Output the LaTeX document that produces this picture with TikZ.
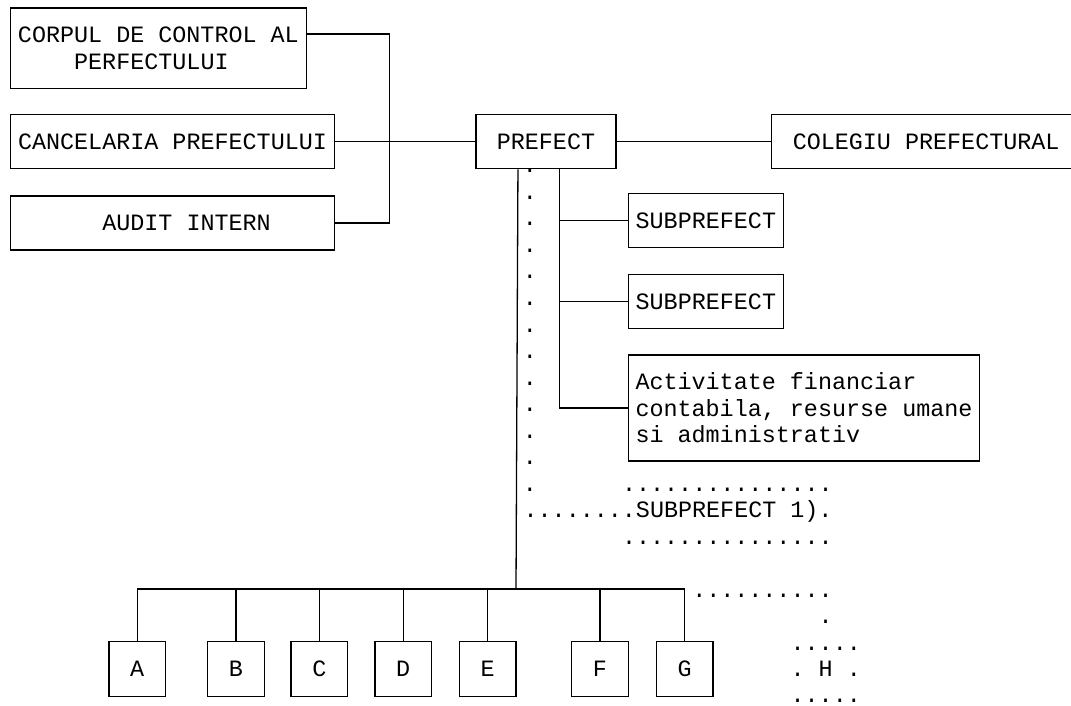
\documentclass[tikz,border=0pt]{standalone}
\usepackage{fontspec}
\setmonofont{Liberation Mono}
\usetikzlibrary{positioning}
\newcommand\chartfont{\fontsize{23.4pt}{26.55pt}\selectfont\ttfamily\frenchspacing}

\begin{document}
\begin{tikzpicture}[x=1pt, y=-1pt, line width=1.3pt,
  box/.style={draw, inner sep=0pt, font=\chartfont, align=left},
  dots/.style={inner sep=0pt, font=\chartfont, anchor=base west}]
 \useasboundingbox (0,0) rectangle (1071,705);
 \node [box, anchor=north west, minimum width=295.5pt, minimum height=80.4pt] (control) at (10,7.3) {CORPUL DE CONTROL AL\\\hphantom{XXXX}PERFECTULUI};
 \node [box, below right=25pt and 0pt of control.south west, minimum width=323.7pt, minimum height=54pt] (cancel) {CANCELARIA PREFECTULUI};
 \node [box, below right=26pt and 0pt of cancel.south west, minimum width=323.7pt, minimum height=54pt] (audit) {\hphantom{XX}AUDIT INTERN};
 \node [box, right=140.3pt of cancel, minimum width=140pt, minimum height=54pt] (prefect) {PREFECT};
 \node [box, right=153.9pt of prefect, minimum width=310pt, minimum height=54pt] (colegiu) {COLEGIU PREFECTURAL};
 \node [box, anchor=north west, minimum width=155pt, minimum height=54pt] (sub1) at (627.7,192.7) {SUBPREFECT};
 \node [box, below right=26pt and 0pt of sub1.south west, minimum width=155pt, minimum height=54pt] (sub2) {SUBPREFECT};
 \node [box, below right=25pt and 0pt of sub2.south west, minimum width=351.3pt, minimum height=106pt] (activ) {Activitate financiar\\contabila, resurse umane\\si administrativ};
 \foreach \n/\l/\x in {a/A/137.2, b/B/236, c/C/319.3, d/D/403.2, e/E/487.7, f/F/600, g/G/684.7}
  \node [box, minimum width=56.4pt, minimum height=55pt] (\n) at (\x,669.2) {\l};

 \coordinate (spine) at (389.7,139.7);
 \coordinate (bus) at (516,589);
 \coordinate (trunk) at ([xshift=-28pt]prefect.south);
 \coordinate (branch) at ([xshift=13.7pt]prefect.south);

 \draw ([yshift=-26.7pt]control.north east) -| (spine) |- (audit.east);
 \draw (cancel.east) -- (prefect.west);
 \draw (prefect.east) -- (colegiu.west);
 \draw (trunk) -- (bus);
 \draw (branch) |- (activ.west);
 \draw (sub1.west) -- (sub1.west -| branch);
 \draw (sub2.west) -- (sub2.west -| branch);
 \draw (a.north) |- (bus) -| (g.north);
 \foreach \n in {b,c,d,e,f}
  \draw (\n.north) -- (\n.north |- bus);

 \foreach \k in {0,...,12}
  \node [inner sep=0pt, font=\chartfont] (dot\k) at (530,{171+26.55*\k}) {.};
 \node [dots] (rowtop) at (621.4,491) {...............};
 \node [dots] (rowsub) at (523,517.5) {........SUBPREFECT 1).};
 \node [dots] (rowbot) at (621.4,544) {...............};
 \node [dots] (hline) at (691.6,597) {..........};
 \node [dots] (hdrop) at (818,623.7) {.};
 \node [dots] (htop) at (790,650.2) {.....};
 \node [dots] (hmid) at (790,676.8) {. H .};
 \node [dots] (hbot) at (790,702.2) {.....};
\end{tikzpicture}
\end{document}
